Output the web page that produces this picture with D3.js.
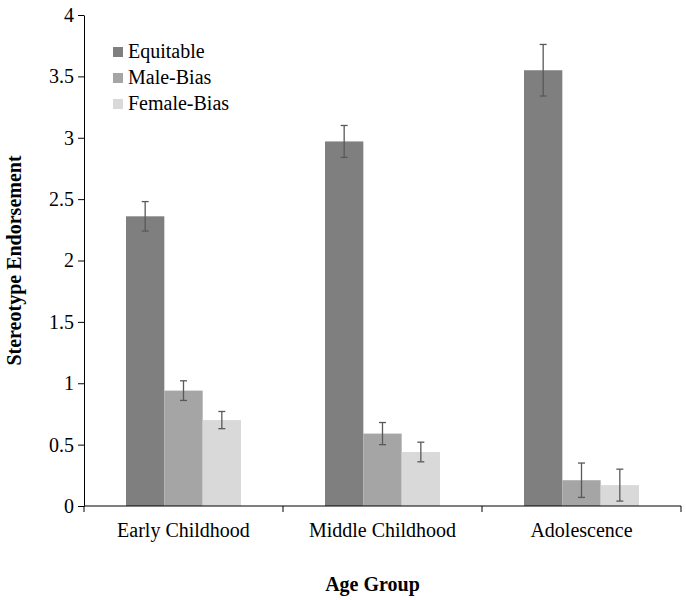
<!DOCTYPE html>
<html><head><meta charset="utf-8">
<script src="https://cdn.jsdelivr.net/npm/d3@7"></script>
<style>body{margin:0;background:#fff}svg{display:block}text{font-family:'Liberation Serif','Times New Roman',serif}</style>
</head><body><svg id="c" width="686" height="600"></svg>
<script>
const categories = ["Early Childhood", "Middle Childhood", "Adolescence"];
const seriesNames = ["Equitable", "Male-Bias", "Female-Bias"];
const seriesColors = ["#7f7f7f", "#a5a5a5", "#d9d9d9"];
const equitable = [2.36, 2.97, 3.55];
const equitableErr = [0.12, 0.13, 0.21];
const maleBias = [0.94, 0.59, 0.21];
const maleBiasErr = [0.08, 0.09, 0.14];
const femaleBias = [0.70, 0.44, 0.17];
const femaleBiasErr = [0.07, 0.08, 0.13];
const yTicks = [0, 0.5, 1, 1.5, 2, 2.5, 3, 3.5, 4];

const values = [equitable, maleBias, femaleBias];
const errs = [equitableErr, maleBiasErr, femaleBiasErr];

const svg = d3.select("#c");
const mLeft = 84, mRight = 681, mTop = 15, mBottom = 506;
const fs = 20;
const ff = "'Liberation Serif','Times New Roman',serif";

const x0 = d3.scaleBand().domain(categories).range([mLeft, mRight]).padding(0);
const groupW = 115;
const x1 = d3.scaleBand().domain(seriesNames).range([0, groupW]).padding(0);
const y = d3.scaleLinear().domain([0, 4]).range([mBottom, mTop]);

// bars
const data = [];
categories.forEach((c, ci) => seriesNames.forEach((s, si) => data.push({c, s, si, v: values[si][ci], e: errs[si][ci]})));
const off = (x0.bandwidth() - groupW) / 2;
svg.append("g").selectAll("rect").data(data).join("rect")
  .attr("x", d => x0(d.c) + off + x1(d.s))
  .attr("y", d => y(d.v))
  .attr("width", x1.bandwidth())
  .attr("height", d => y(0) - y(d.v))
  .attr("fill", d => seriesColors[d.si]);

// error bars
const eg = svg.append("g").attr("stroke", "#595959").attr("stroke-width", 1.3).attr("fill", "none");
data.forEach(d => {
  const cx = x0(d.c) + off + x1(d.s) + x1.bandwidth() / 2;
  eg.append("line").attr("x1", cx).attr("x2", cx).attr("y1", y(d.v + d.e)).attr("y2", y(d.v - d.e));
  eg.append("line").attr("x1", cx - 3.5).attr("x2", cx + 3.5).attr("y1", y(d.v + d.e)).attr("y2", y(d.v + d.e));
  eg.append("line").attr("x1", cx - 3.5).attr("x2", cx + 3.5).attr("y1", y(d.v - d.e)).attr("y2", y(d.v - d.e));
});

// y axis
const ya = svg.append("g").attr("transform", `translate(${mLeft},0)`)
  .call(d3.axisLeft(y).tickValues(yTicks).tickFormat(d3.format("")).tickSize(6).tickSizeOuter(0).tickPadding(4));
ya.attr("font-family", ff).attr("font-size", fs);
ya.select(".domain").attr("stroke", "#000");
ya.selectAll("line").attr("stroke", "#000");
ya.selectAll("text").attr("font-size", fs).attr("font-family", ff).attr("fill", "#000");

// x axis
const xa = svg.append("g").attr("transform", `translate(0,${mBottom})`);
xa.append("line").attr("x1", mLeft).attr("x2", mRight).attr("y1", 0).attr("y2", 0).attr("stroke", "#000");
const bounds = categories.map(c => x0(c)).concat([mRight]);
xa.selectAll("line.tk").data(bounds).join("line").attr("class", "tk")
  .attr("x1", d => d).attr("x2", d => d).attr("y1", 0).attr("y2", 6).attr("stroke", "#000");
xa.selectAll("text").data(categories).join("text")
  .attr("x", d => x0(d) + x0.bandwidth() / 2).attr("y", 31)
  .attr("text-anchor", "middle").attr("font-size", fs).attr("font-family", ff).attr("fill", "#000").text(d => d);

// axis titles
svg.append("text").attr("x", (mLeft + mRight) / 2 - 10).attr("y", 591).attr("text-anchor", "middle")
  .attr("font-size", fs).attr("font-family", ff).attr("font-weight", "bold").text("Age Group");
svg.append("text").attr("transform", `translate(21,${(mTop + mBottom) / 2}) rotate(-90)`).attr("text-anchor", "middle")
  .attr("font-size", fs).attr("font-family", ff).attr("font-weight", "bold").text("Stereotype Endorsement");

// legend
const lg = svg.append("g");
seriesNames.forEach((s, i) => {
  const cy = 52 + i * 26;
  lg.append("rect").attr("x", 113).attr("y", cy - 5).attr("width", 10).attr("height", 10).attr("fill", seriesColors[i]);
  lg.append("text").attr("x", 128).attr("y", cy + 6).attr("font-size", fs).attr("font-family", ff).attr("fill", "#000").text(s);
});
</script></body></html>
